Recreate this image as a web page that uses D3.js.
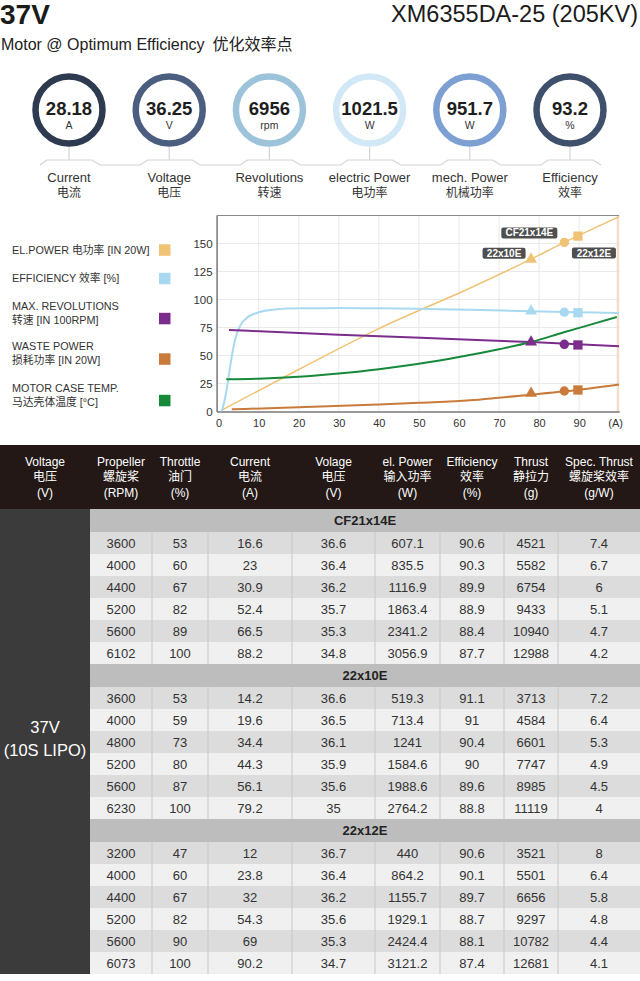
<!DOCTYPE html>
<html>
<head>
<meta charset="utf-8">
<script src="https://cdn.jsdelivr.net/npm/d3@7"></script>
<style>
  body { margin: 0; background: #fff; }
  svg { display: block; }
  text { font-family: "Liberation Sans", Arial, "Noto Sans CJK SC", sans-serif; }
</style>
</head>
<body>
<div id="chart"></div>
<script>
// ---- data ----
const titleVoltage = "37V";
const motorName = "XM6355DA-25 (205KV)";
const subtitleEn = "Motor @ Optimum Efficiency";
const subtitleZh = "优化效率点";

const gaugeValues = ["28.18", "36.25", "6956", "1021.5", "951.7", "93.2"];
const gaugeUnits = ["A", "V", "rpm", "W", "W", "%"];
const gaugeNamesEn = ["Current", "Voltage", "Revolutions", "electric Power", "mech. Power", "Efficiency"];
const gaugeNamesZh = ["电流", "电压", "转速", "电功率", "机械功率", "效率"];

const legendLabels = [
    ["EL.POWER 电功率 [IN 20W]"],
    ["EFFICIENCY 效率 [%]"],
    ["MAX. REVOLUTIONS", "转速 [IN 100RPM]"],
    ["WASTE POWER", "损耗功率 [IN 20W]"],
    ["MOTOR CASE TEMP.", "马达壳体温度 [°C]"]
];

// curves: [current A, value]
const elPowerCurve = [[0.8, 1.3], [20, 37.5], [40, 74], [62.8, 110.3], [78, 136], [86.3, 151], [100, 174]];
const efficiencyCurve = [[0.8, 0], [2, 19], [3, 43], [4.1, 64], [5.3, 76], [7, 83.5], [9.5, 88], [14.5, 91.2],
    [20.3, 92.1], [30, 92.3], [40, 92.1], [50, 91.7], [62.8, 90.9], [78, 89.5], [90, 88.6], [100, 88]];
const revolutionCurve = [[2.6, 72.8], [30, 68.6], [62.8, 64.1], [78, 62], [100, 58.2]];
const wastePowerCurve = [[3.3, 2], [20, 3.7], [40, 6.3], [50, 7.8], [62.8, 10], [70, 12.3], [78, 15], [86.4, 18], [100, 24.2]];
const caseTempCurve = [[1.9, 28.7], [10, 29.3], [20, 31], [30, 34], [40, 37.8], [50, 42.6], [60, 48.6],
    [70, 55.6], [78, 62], [86, 70.5], [92, 76.7], [99.4, 84.4]];

const xTicks = [0, 10, 20, 30, 40, 50, 60, 70, 80, 90, 100];
const yTicks = [0, 25, 50, 75, 100, 125, 150];

// full-throttle points per propeller
const propellers = ["CF21x14E", "22x10E", "22x12E"];
const markerCurrent = [86.3, 78, 89.7];
const markerElPower = [151, 136, 156.6];
const markerEfficiency = [88.6, 89.6, 88.2];
const markerRevolutions = [60, 62, 59.4];
const markerWastePower = [18.3, 16.2, 19.2];

// table
const headerEn = ["Voltage", "Propeller", "Throttle", "Current", "Volage", "el. Power", "Efficiency", "Thrust", "Spec. Thrust"];
const headerZh = ["电压", "螺旋桨", "油门", "电流", "电压", "输入功率", "效率", "静拉力", "螺旋桨效率"];
const headerUnit = ["(V)", "(RPM)", "(%)", "(A)", "(V)", "(W)", "(%)", "(g)", "(g/W)"];
const batteryLabel = ["37V", "(10S LIPO)"];

const rpm = [[3600, 4000, 4400, 5200, 5600, 6102], [3600, 4000, 4800, 5200, 5600, 6230], [3200, 4000, 4400, 5200, 5600, 6073]];
const throttle = [[53, 60, 67, 82, 89, 100], [53, 59, 73, 80, 87, 100], [47, 60, 67, 82, 90, 100]];
const current = [[16.6, 23, 30.9, 52.4, 66.5, 88.2], [14.2, 19.6, 34.4, 44.3, 56.1, 79.2], [12, 23.8, 32, 54.3, 69, 90.2]];
const volts = [[36.6, 36.4, 36.2, 35.7, 35.3, 34.8], [36.6, 36.5, 36.1, 35.9, 35.6, 35], [36.7, 36.4, 36.2, 35.6, 35.3, 34.7]];
const power = [[607.1, 835.5, 1116.9, 1863.4, 2341.2, 3056.9], [519.3, 713.4, 1241, 1584.6, 1988.6, 2764.2], [440, 864.2, 1155.7, 1929.1, 2424.4, 3121.2]];
const efficiency = [[90.6, 90.3, 89.9, 88.9, 88.4, 87.7], [91.1, 91, 90.4, 90, 89.6, 88.8], [90.6, 90.1, 89.7, 88.7, 88.1, 87.4]];
const thrust = [[4521, 5582, 6754, 9433, 10940, 12988], [3713, 4584, 6601, 7747, 8985, 11119], [3521, 5501, 6656, 9297, 10782, 12681]];
const specThrust = [[7.4, 6.7, 6, 5.1, 4.7, 4.2], [7.2, 6.4, 5.3, 4.9, 4.5, 4], [8, 6.4, 5.8, 4.8, 4.4, 4.1]];

// ---- styles ----
const gaugeColors = ["#2d3a4f", "#4b5e7f", "#9dc3da", "#d2e8f6", "#7d9fd2", "#3f506d"];
const seriesColors = ["#f0c274", "#a9d9f1", "#7b2d8c", "#c97b3b", "#17893b"];

const svg = d3.select("#chart").append("svg")
    .attr("width", 640)
    .attr("height", 981);

svg.append("rect").attr("width", 640).attr("height", 981).attr("fill", "#fff");

// ---- title block ----
svg.append("text")
    .attr("x", 0).attr("y", 24)
    .attr("font-size", 28).attr("font-weight", "bold").attr("fill", "#1b1b1b")
    .text(titleVoltage);

svg.append("text")
    .attr("x", 638).attr("y", 22)
    .attr("text-anchor", "end")
    .attr("font-size", 23.5).attr("fill", "#1b1b1b")
    .text(motorName);

const sub = svg.append("text")
    .attr("x", 1).attr("y", 50)
    .attr("font-size", 16).attr("fill", "#222");
sub.append("tspan").text(subtitleEn);
sub.append("tspan").attr("dx", 8).text(subtitleZh);

// ---- gauges ----
const gx = d3.scalePoint().domain(gaugeNamesEn).range([69, 570]);

const connector = [];
gaugeNamesEn.forEach(function(d) {
    const c = gx(d);
    connector.push([c - 29, 165], [c - 22, 160], [c + 23, 160], [c + 31, 165]);
});
svg.append("path")
    .attr("d", d3.line()(connector))
    .attr("fill", "none")
    .attr("stroke", "#d4d4d4")
    .attr("stroke-width", 1.2);

const gauge = svg.selectAll("g.gauge")
    .data(gaugeNamesEn)
    .join("g")
    .attr("class", "gauge")
    .attr("transform", d => "translate(" + gx(d) + ",110)");

gauge.append("line")
    .attr("y1", 37).attr("y2", 50)
    .attr("stroke", "#d4d4d4").attr("stroke-width", 1.2);

gauge.append("circle")
    .attr("r", 33.5)
    .attr("fill", "#fff")
    .attr("stroke", (d, i) => gaugeColors[i])
    .attr("stroke-width", 6.5);

gauge.append("text")
    .attr("y", 5)
    .attr("text-anchor", "middle")
    .attr("font-size", 18.5).attr("font-weight", "bold").attr("fill", "#1e1e1e")
    .text((d, i) => gaugeValues[i]);

gauge.append("text")
    .attr("y", 19)
    .attr("text-anchor", "middle")
    .attr("font-size", 10.5).attr("fill", "#333")
    .text((d, i) => gaugeUnits[i]);

gauge.append("text")
    .attr("y", 72)
    .attr("text-anchor", "middle")
    .attr("font-size", 13).attr("fill", "#333")
    .text(d => d);

gauge.append("text")
    .attr("y", 87)
    .attr("text-anchor", "middle")
    .attr("font-size", 12).attr("fill", "#333")
    .text((d, i) => gaugeNamesZh[i]);

// ---- legend ----
const legendY = [250, 278.5, 318.5, 359, 400.5];
const legend = svg.selectAll("g.legend")
    .data(legendLabels)
    .join("g")
    .attr("class", "legend")
    .attr("transform", (d, i) => "translate(0," + legendY[i] + ")");

legend.append("rect")
    .attr("x", 159).attr("y", -5.7)
    .attr("width", 11.5).attr("height", 11.5)
    .attr("fill", (d, i) => seriesColors[i]);

legend.selectAll("text")
    .data(d => d.map((t, j) => ({ t: t, j: j, n: d.length })))
    .join("text")
    .attr("x", 12)
    .attr("y", d => d.n === 1 ? 3.8 : (d.j === 0 ? -9 : 5.2))
    .attr("font-size", 10.8).attr("fill", "#333")
    .text(d => d.t);

// ---- chart ----
const x = d3.scaleLinear().domain([-0.5, 100]).range([216.6, 619.2]);
const y = d3.scaleLinear().domain([0, 175]).range([411.5, 215.5]);

svg.append("defs").append("clipPath").attr("id", "plot-clip")
    .append("rect")
    .attr("x", x(-0.5)).attr("y", y(175))
    .attr("width", x(100) - x(-0.5)).attr("height", y(0) - y(175));

const grid = svg.append("g").attr("stroke", "#e9e9e9").attr("stroke-width", 1);
grid.selectAll("line.v")
    .data(xTicks.filter(d => d > 0 && d < 100))
    .join("line")
    .attr("x1", d => x(d)).attr("x2", d => x(d))
    .attr("y1", y(175)).attr("y2", y(0));
grid.selectAll("line.h")
    .data(yTicks.filter(d => d > 0))
    .join("line")
    .attr("x1", x(-0.5)).attr("x2", x(100))
    .attr("y1", d => y(d)).attr("y2", d => y(d));

// right edge band
svg.append("rect")
    .attr("x", x(100) - 2.5).attr("y", y(175))
    .attr("width", 2.5).attr("height", y(0) - y(175))
    .attr("fill", "#f5dccb");

// frame
svg.append("line")
    .attr("x1", x(-0.5)).attr("x2", x(100))
    .attr("y1", y(175)).attr("y2", y(175))
    .attr("stroke", "#8a8a8a").attr("stroke-width", 1);

const xAxis = svg.append("g")
    .attr("transform", "translate(0," + y(0) + ")")
    .call(d3.axisBottom(x).tickValues(xTicks).tickSize(0).tickPadding(8)
        .tickFormat(d => d === 100 ? "(A)" : d));
xAxis.select(".domain").attr("stroke", "#777").attr("stroke-width", 1.5);
xAxis.selectAll("text")
    .attr("font-size", 11).attr("fill", "#333")
    .attr("dx", d => d === 100 ? -4 : 0);

const yAxis = svg.append("g")
    .attr("transform", "translate(" + x(-0.5) + ",0)")
    .call(d3.axisLeft(y).tickValues(yTicks).tickSize(0).tickPadding(4));
yAxis.select(".domain").attr("stroke", "#777").attr("stroke-width", 1.5);
yAxis.selectAll("text").attr("font-size", 11.5).attr("fill", "#333");

const line = d3.line()
    .x(d => x(d[0]))
    .y(d => y(d[1]))
    .curve(d3.curveMonotoneX);

const curves = [elPowerCurve, efficiencyCurve, revolutionCurve, wastePowerCurve, caseTempCurve];
const curveWidths = [1.5, 2, 2, 2, 2];

svg.append("g")
    .attr("clip-path", "url(#plot-clip)")
    .selectAll("path")
    .data(curves)
    .join("path")
    .attr("d", line)
    .attr("fill", "none")
    .attr("stroke", (d, i) => seriesColors[i])
    .attr("stroke-width", (d, i) => curveWidths[i]);

// markers
const markerTypes = [d3.symbolCircle, d3.symbolTriangle, d3.symbolSquare];
const markerSizes = [70, 62, 86];
const markerSeries = [markerElPower, markerEfficiency, markerRevolutions, markerWastePower];

markerSeries.forEach(function(vals, s) {
    svg.append("g")
        .selectAll("path")
        .data(propellers)
        .join("path")
        .attr("transform", (d, i) => "translate(" + x(markerCurrent[i]) + "," + y(vals[i]) + ")")
        .attr("d", (d, i) => d3.symbol().type(markerTypes[i]).size(markerSizes[i])())
        .attr("fill", seriesColors[s]);
});

// propeller tags on the power line
const tagWidths = [56, 43, 44];
const tagOffsets = [[-7 - 56, -9.5], [-5.5 - 43, -6], [-6, 17]];
const tags = svg.selectAll("g.tag")
    .data(propellers)
    .join("g")
    .attr("class", "tag")
    .attr("transform", (d, i) => "translate(" + (x(markerCurrent[i]) + tagOffsets[i][0]) + "," +
        (y(markerElPower[i]) + tagOffsets[i][1]) + ")");

tags.append("rect")
    .attr("y", -5.5)
    .attr("width", (d, i) => tagWidths[i]).attr("height", 11)
    .attr("rx", 2)
    .attr("fill", "#4f4f4f");

tags.append("text")
    .attr("x", (d, i) => tagWidths[i] / 2).attr("y", 3.6)
    .attr("text-anchor", "middle")
    .attr("font-size", 10).attr("font-weight", "bold").attr("fill", "#fff")
    .text(d => d);

// ---- table ----
const colEdges = [0, 90, 152, 208, 292, 375, 440, 504, 558, 640];
const colMid = i => (colEdges[i] + colEdges[i + 1]) / 2;
const headTop = 445, headH = 64, secHeadH = 23, rowH = 22;
const secH = secHeadH + rowH * 6;
const bodyTop = headTop + headH;

svg.append("rect")
    .attr("x", 0).attr("y", headTop)
    .attr("width", 640).attr("height", headH)
    .attr("fill", "#231815");

const head = svg.selectAll("g.head")
    .data(headerEn)
    .join("g")
    .attr("class", "head")
    .attr("transform", (d, i) => "translate(" + colMid(i) + "," + headTop + ")");
head.append("text").attr("y", 21).text(d => d);
head.append("text").attr("y", 36).text((d, i) => headerZh[i]);
head.append("text").attr("y", 52).text((d, i) => headerUnit[i]);
head.selectAll("text")
    .attr("text-anchor", "middle")
    .attr("font-size", 12).attr("fill", "#fff");

svg.append("rect")
    .attr("x", 0).attr("y", bodyTop)
    .attr("width", colEdges[1]).attr("height", secH * 3)
    .attr("fill", "#3b3b3b");

svg.selectAll("text.battery")
    .data(batteryLabel)
    .join("text")
    .attr("class", "battery")
    .attr("x", colMid(0))
    .attr("y", (d, i) => 733 + i * 23)
    .attr("text-anchor", "middle")
    .attr("font-size", 16.5).attr("fill", "#fff")
    .text(d => d);

const tableCols = [rpm, throttle, current, volts, power, efficiency, thrust, specThrust];

const section = svg.selectAll("g.section")
    .data(propellers)
    .join("g")
    .attr("class", "section")
    .attr("transform", (d, i) => "translate(0," + (bodyTop + i * secH) + ")");

section.append("rect")
    .attr("x", colEdges[1]).attr("width", 640 - colEdges[1])
    .attr("height", secHeadH)
    .attr("fill", "#bdbdbd");

section.append("text")
    .attr("x", (colEdges[1] + 640) / 2).attr("y", 16)
    .attr("text-anchor", "middle")
    .attr("font-size", 13).attr("font-weight", "bold").attr("fill", "#222")
    .text(d => d);

section.each(function(p, s) {
    const g = d3.select(this);
    const rows = d3.range(6);
    g.selectAll("rect.row")
        .data(rows)
        .join("rect")
        .attr("class", "row")
        .attr("x", colEdges[1]).attr("width", 640 - colEdges[1])
        .attr("y", r => secHeadH + r * rowH).attr("height", rowH)
        .attr("fill", r => r % 2 === 0 ? "#dcdcdc" : "#f0f0f0");

    g.selectAll("line.sep")
        .data(colEdges.slice(2, -1))
        .join("line")
        .attr("class", "sep")
        .attr("x1", d => d).attr("x2", d => d)
        .attr("y1", secHeadH).attr("y2", secH)
        .attr("stroke", "#c8c8c8");

    tableCols.forEach(function(col, c) {
        g.selectAll("text.c" + c)
            .data(col[s])
            .join("text")
            .attr("class", "c" + c)
            .attr("x", colMid(c + 1))
            .attr("y", (v, r) => secHeadH + r * rowH + 15.5)
            .attr("text-anchor", "middle")
            .attr("font-size", 13).attr("fill", "#333")
            .text(v => String(v));
    });
});
</script>
</body>
</html>
